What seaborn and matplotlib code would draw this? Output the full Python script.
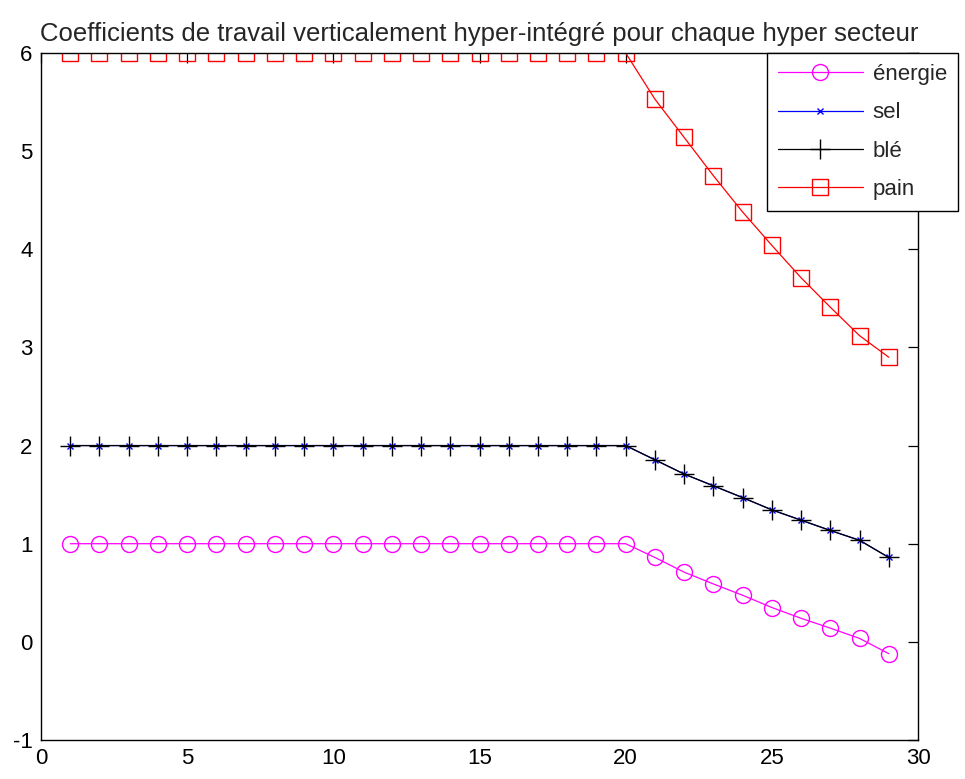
import numpy as np
import pandas as pd
import matplotlib
matplotlib.use("Agg")
import matplotlib.pyplot as plt
import seaborn as sns

# values
periods = list(range(1, 30))
energie = [1.0] * 20 + [0.86, 0.71, 0.59, 0.475, 0.35, 0.24, 0.14, 0.035, -0.12]
sel = [2.0] * 20 + [1.855, 1.71, 1.59, 1.47, 1.345, 1.24, 1.135, 1.035, 0.86]
ble = list(sel)
pain = [6.0] * 20 + [5.53, 5.14, 4.75, 4.38, 4.04, 3.71, 3.41, 3.12, 2.9]

labels = ["énergie", "sel", "blé", "pain"]
title = "Coefficients de travail verticalement hyper-intégré pour chaque hyper secteur"
xticks = [0, 5, 10, 15, 20, 25, 30]
yticks = [-1, 0, 1, 2, 3, 4, 5, 6]

sns.set_style("white")
plt.rcParams['font.family'] = ['Liberation Sans', 'DejaVu Sans']
plt.rcParams['axes.unicode_minus'] = False

fig = plt.figure(figsize=(9.65, 7.79), dpi=100)
ax = fig.add_axes([41 / 965, 1 - 740 / 779, (918 - 41) / 965, (740 - 53) / 779])

styles = [
    dict(color="#ff00ff", marker="o", markersize=11.5, markerfacecolor="none"),
    dict(color="#0000ff", marker="x", markersize=5),
    dict(color="#000000", marker="+", markersize=14),
    dict(color="#ff0000", marker="s", markersize=11.5, markerfacecolor="none"),
]
series = [energie, sel, ble, pain]

for lab, vals, st in zip(labels, series, styles):
    df = pd.DataFrame({"x": periods, "y": vals})
    sns.lineplot(data=df, x="x", y="y", ax=ax, label=lab, linewidth=0.9,
                 markeredgecolor=st["color"], markeredgewidth=1.0, **st)

ax.set_xlim(0, 30)
ax.set_ylim(-1, 6)
ax.set_xticks(xticks)
ax.set_yticks(yticks)
ax.set_xlabel("")
ax.set_ylabel("")
ax.tick_params(direction="in", length=7, width=0.9, top=True, right=True,
               labelsize=16, pad=6, colors="black")
for sp in ax.spines.values():
    sp.set_color("black")
    sp.set_linewidth(1.0)
ax.set_title(title, fontsize=18.5, pad=9)

leg = ax.legend(loc="upper right", bbox_to_anchor=(958 / 965, 1 - 53 / 779),
                bbox_transform=fig.transFigure, fontsize=16, handlelength=3.8,
                labelspacing=0.78, borderaxespad=0, fancybox=False, framealpha=1,
                edgecolor="black", borderpad=0.5, handletextpad=0.45)
leg.get_frame().set_linewidth(1.0)

fig.savefig("out.png", dpi=100)
